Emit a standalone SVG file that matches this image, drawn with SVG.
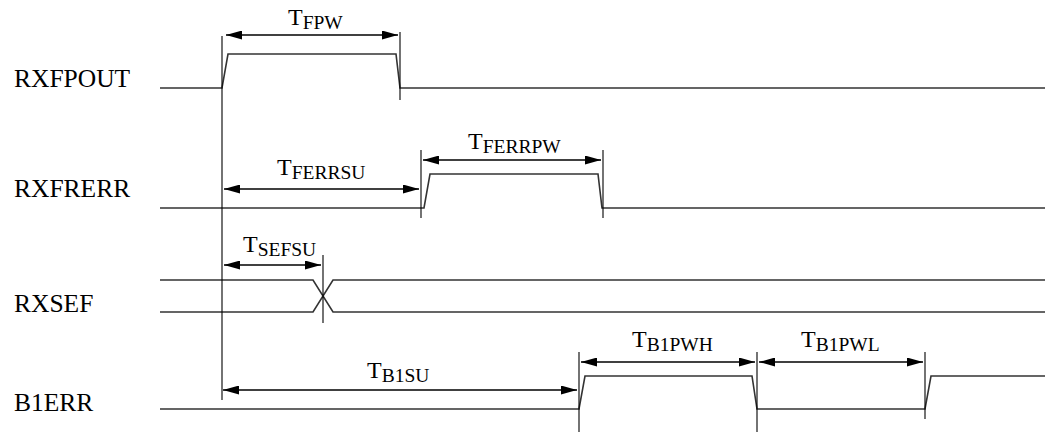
<svg xmlns="http://www.w3.org/2000/svg" width="1045" height="433" viewBox="0 0 1045 433">
<defs>
<marker id="ah" viewBox="0 0 16 9" refX="16" refY="4.5" markerWidth="16" markerHeight="9" markerUnits="userSpaceOnUse" orient="auto-start-reverse">
<path d="M0,0 L16,4.5 L0,9 Z" fill="#000"/>
</marker>
</defs>
<style>
.sig{fill:none;stroke:#333;stroke-width:1.6}
.ref{fill:none;stroke:#000;stroke-width:1.1}
.dim{fill:none;stroke:#000;stroke-width:1.3;marker-start:url(#ah);marker-end:url(#ah)}
.lbl{font-family:"Liberation Serif","Times New Roman",serif;font-size:25.5px;fill:#000}
.t{font-family:"Liberation Serif","Times New Roman",serif;font-size:24px;fill:#000}
.s{font-size:19.5px}
</style>
<rect width="1045" height="433" fill="#fff"/>
<g id="rxfpout">
<text class="lbl" x="14" y="87">RXFPOUT</text>
<polyline class="sig" points="160,88 222,88 228,54 396,54 400,88 1045,88"/>
</g>
<g id="rxfrerr">
<text class="lbl" x="14" y="197">RXFRERR</text>
<polyline class="sig" points="160,208 424,208 430,174 598,174 602,208 1045,208"/>
</g>
<g id="rxsef">
<text class="lbl" x="14" y="312">RXSEF</text>
<polyline class="sig" points="160,280 313,280 333,312 1045,312"/>
<polyline class="sig" points="160,312 313,312 333,280 1045,280"/>
</g>
<g id="b1err">
<text class="lbl" x="14" y="411">B1ERR</text>
<polyline class="sig" points="160,409 579,409 585,376 752,376 757,409 925,409 931,376 1045,376"/>
</g>
<g id="connectors">
<line class="ref" x1="222" y1="36" x2="222" y2="400"/>
<line class="ref" x1="400" y1="32" x2="400" y2="100"/>
<line class="ref" x1="421" y1="150" x2="421" y2="218"/>
<line class="ref" x1="603" y1="150" x2="603" y2="218"/>
<line class="ref" x1="323" y1="255" x2="323" y2="323"/>
<line class="ref" x1="579" y1="352" x2="579" y2="432"/>
<line class="ref" x1="757" y1="352" x2="757" y2="432"/>
<line class="ref" x1="925" y1="352" x2="925" y2="419"/>
<line class="dim" x1="226" y1="35" x2="398" y2="35"/>
<line class="dim" x1="224" y1="189" x2="419" y2="189"/>
<line class="dim" x1="423" y1="160" x2="601" y2="160"/>
<line class="dim" x1="224" y1="265" x2="321" y2="265"/>
<line class="dim" x1="223" y1="390" x2="577" y2="390"/>
<line class="dim" x1="581" y1="362" x2="755" y2="362"/>
<line class="dim" x1="759" y1="362" x2="923" y2="362"/>
</g>
<g id="labels">
<text class="t" x="288" y="25">T<tspan class="s" dy="4">FPW</tspan></text>
<text class="t" x="468" y="149">T<tspan class="s" dy="4">FERRPW</tspan></text>
<text class="t" x="277" y="175">T<tspan class="s" dy="4">FERRSU</tspan></text>
<text class="t" x="243" y="252">T<tspan class="s" dy="4">SEFSU</tspan></text>
<text class="t" x="367" y="378">T<tspan class="s" dy="4">B1SU</tspan></text>
<text class="t" x="632" y="347">T<tspan class="s" dy="4">B1PWH</tspan></text>
<text class="t" x="801" y="347">T<tspan class="s" dy="4">B1PWL</tspan></text>
</g>
</svg>
